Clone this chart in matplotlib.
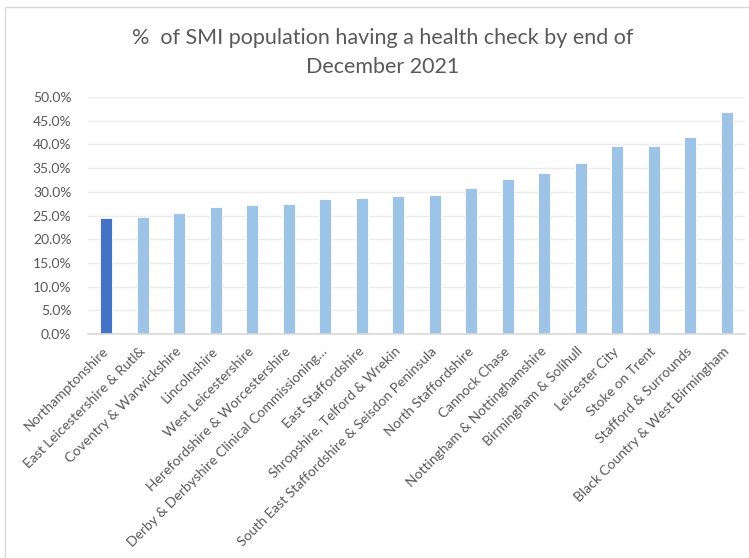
import matplotlib.pyplot as plt
from matplotlib.patches import Rectangle
from matplotlib.ticker import PercentFormatter

plt.rcParams['font.family'] = ['Lato', 'DejaVu Sans']

areas = [
    "Northamptonshire", "East Leicestershire & Rutl&", "Coventry & Warwickshire",
    "Lincolnshire", "West Leicestershire", "Herefordshire & Worcestershire",
    "Derby & Derbyshire Clinical Commissioning…", "East Staffordshire",
    "Shropshire, Telford & Wrekin", "South East Staffordshire & Seisdon Peninsula",
    "North Staffordshire", "Cannock Chase", "Nottingham & Nottinghamshire",
    "Birmingham & Solihull", "Leicester City", "Stoke on Trent",
    "Stafford & Surrounds", "Black Country & West Birmingham",
]
pct_checked = [24.5, 24.7, 25.6, 26.8, 27.3, 27.4, 28.5, 28.6, 29.2, 29.4,
               30.9, 32.7, 34.0, 36.1, 39.7, 39.7, 41.6, 46.9]
highlight = "Northamptonshire"

fig = plt.figure(figsize=(7.49, 5.58), dpi=100)
ax = fig.add_axes([0.1175, 0.4014, 0.8772, 0.4246])

# chart border like the Excel chart area
fig.patches.append(Rectangle((5 / 749, -0.05), 1.2, 1 - 7 / 558 + 0.05,
                             transform=fig.transFigure, fill=False,
                             edgecolor="#D9D9D9", linewidth=1))

colors = ["#4472C4" if a == highlight else "#9DC3E6" for a in areas]
x = range(len(areas))
ax.bar(x, pct_checked, width=0.32, color=colors, edgecolor="white",
       linewidth=0.6, zorder=3)

ax.set_xlim(-0.5, len(areas) - 0.5)
ax.set_ylim(0, 50)
ax.set_yticks(range(0, 51, 5))
ax.yaxis.set_major_formatter(PercentFormatter(decimals=1))
ax.grid(axis="y", color="#EBEBEB", linewidth=1, zorder=0)
for s in ["top", "right", "left"]:
    ax.spines[s].set_visible(False)
ax.spines["bottom"].set_color("#D9D9D9")
ax.spines["bottom"].set_linewidth(1.2)
ax.spines["bottom"].set_zorder(4)
ax.tick_params(axis="both", length=0, labelcolor="#595959", labelsize=10)
ax.tick_params(axis="y", pad=12)

ax.set_xticks(list(x))
ax.set_xticklabels(areas, rotation=45, ha="right", va="center",
                   rotation_mode="anchor")
ax.tick_params(axis="x", pad=11)

fig.text(0.511, 0.906, "%  of SMI population having a health check by end of\nDecember 2021",
         ha="center", va="center", fontsize=15.5, color="#595959",
         linespacing=1.6)

fig.savefig("out.png", dpi=100)
